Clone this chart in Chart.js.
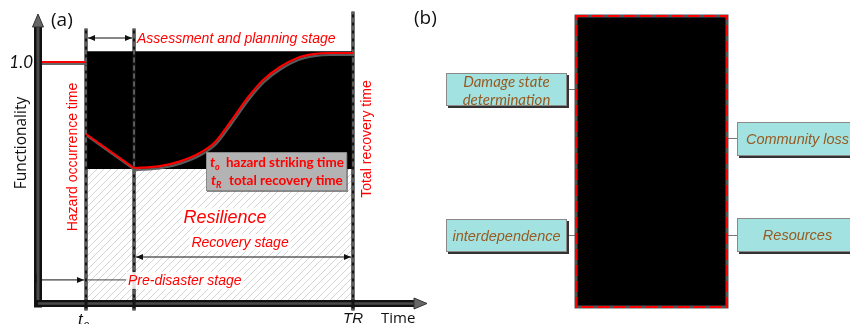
<!DOCTYPE html>
<html><head><meta charset="utf-8">
<script src="https://cdn.jsdelivr.net/npm/chart.js@4.4.1/dist/chart.umd.min.js"></script>
<style>
html,body{margin:0;padding:0;background:#fff;overflow:hidden}
#wrap{position:relative;width:850px;height:324px;overflow:hidden;background:#fff}
#c,#svgb{position:absolute;left:0;top:0}
.lbl{position:absolute;font-family:"Open Sans",sans-serif;font-size:19px;color:#111;line-height:1}
.box{position:absolute;box-sizing:border-box;width:121px;background:#a2e3e1;border:1px solid #8a8a8a;box-shadow:2px 2px 0 #333;color:#965a22;font-style:italic;display:flex;align-items:center;justify-content:center;text-align:center;white-space:nowrap}
.cal{font-family:Lato,"Open Sans",sans-serif;font-size:15px;line-height:18px}
.ari{font-family:"Liberation Sans",Arial,sans-serif;font-size:14.5px}
</style></head>
<body>
<div id="wrap">
<canvas id="c" width="850" height="324"></canvas>
<svg id="svgb" width="850" height="324">
  <line x1="567" y1="89.5" x2="576" y2="89.5" stroke="#777" stroke-width="1"/>
  <line x1="567" y1="235.5" x2="576" y2="235.5" stroke="#777" stroke-width="1"/>
  <line x1="727" y1="138.5" x2="737" y2="138.5" stroke="#777" stroke-width="1"/>
  <line x1="727" y1="235.5" x2="737" y2="235.5" stroke="#777" stroke-width="1"/>
  <rect x="576" y="16" width="151" height="291" fill="#000" stroke="#555" stroke-width="3"/>
  <rect x="576" y="16" width="151" height="291" fill="none" stroke="#f00" stroke-width="2" stroke-dasharray="11 5"/>
</svg>
<div class="lbl" style="left:414px;top:8px">(b)</div>
<div class="box cal" style="left:446px;top:73px;height:33px">Damage state<br>determination</div>
<div class="box ari" style="left:446px;top:219px;height:33px">interdependence</div>
<div class="box ari" style="left:737px;top:122px;height:34px">Community loss</div>
<div class="box ari" style="left:737px;top:218px;height:34px">Resources</div>
</div>
<script>
// ---- data (panel a) ----
const stageTimes = [1, 2, 6.56];            // t0 (hazard), end of assessment, TR
const markerTop = [1.14, 1.14, 1.21];
const preTimes = [0, 1];
const preValues = [1.0, 1.0];
const impactTimes = [1, 2];
const impactValues = [0.70, 0.558];
const recoveryTimes = [2.0, 2.54, 2.96, 3.38, 3.69, 4.0, 4.38, 4.69, 5.04, 5.40, 5.73, 6.08, 6.56];
const recoveryValues = [0.558, 0.566, 0.586, 0.622, 0.667, 0.748, 0.854, 0.925, 0.979, 1.017, 1.033, 1.0375, 1.0375];
const lossTop = [1.045, 1.045];
const lossBottom = [0.554, 0.554];
const yTickLabels = ['1.0'];
const yTickValues = [1.0];
const xMax = 8.06, yMax = 1.2;

const RED = '#f00';
const pts = (xs, ys) => xs.map((x, i) => ({x, y: ys[i]}));

function makeHatch(ctx){
  const s = 7, c = document.createElement('canvas');
  c.width = s; c.height = s;
  const g = c.getContext('2d');
  g.fillStyle = '#fff'; g.fillRect(0,0,s,s);
  g.strokeStyle = '#c9c9c9'; g.lineWidth = 0.8;
  g.beginPath();
  g.moveTo(0, s); g.lineTo(s, 0);
  g.moveTo(-1, 1); g.lineTo(1, -1);
  g.moveTo(s-1, s+1); g.lineTo(s+1, s-1);
  g.stroke();
  return ctx.createPattern(c, 'repeat');
}

const canvas = document.getElementById('c');
const hatch = makeHatch(canvas.getContext('2d'));

const datasets = [
  {label:'pre', data: pts(preTimes, preValues), borderColor: RED, borderWidth: 2, order: 0, shadow: true},
  {label:'impact', data: pts(impactTimes, impactValues), borderColor: RED, borderWidth: 2, order: 0, shadow: true},
  {label:'recovery', data: pts(recoveryTimes, recoveryValues), borderColor: RED, borderWidth: 2.2,
   cubicInterpolationMode: 'monotone', order: 0, shadow: true},
];
stageTimes.forEach((t, i) => {
  datasets.push({label:'mkDash'+i, data: pts([t, t], [-0.035, markerTop[i]]), borderColor:'#8c8c8c',
    borderWidth: 1.2, borderDash:[5,3], order: 1, clip: false});
  datasets.push({label:'mk'+i, data: pts([t, t], [-0.035, markerTop[i]]), borderColor:'#151515',
    borderWidth: 3.2, order: 2, clip: false});
});
datasets.push({label:'loss', data: pts([stageTimes[0], stageTimes[2]], lossTop), borderWidth: 0,
  backgroundColor:'#000', fill:{value: lossBottom[0]}, order: 3});
datasets.push({label:'resilience', data: pts([stageTimes[0], stageTimes[2]], lossBottom), borderWidth: 0,
  backgroundColor: hatch, fill:'origin', order: 4});

const shadowPlugin = {
  id:'shadow',
  beforeDatasetDraw(chart, args){
    const ds = chart.data.datasets[args.index];
    if (ds.shadow){ const c = chart.ctx; c.save(); c.shadowColor='rgba(95,95,95,0.95)'; c.shadowOffsetX=1; c.shadowOffsetY=2; c.shadowBlur=0; }
  },
  afterDatasetDraw(chart, args){
    if (chart.data.datasets[args.index].shadow) chart.ctx.restore();
  }
};

function fitSize(ctx, text, style, family, target){
  ctx.font = style + ' 20px ' + family;
  return 20 * target / ctx.measureText(text).width;
}

const annot = {
  id:'annot',
  afterDatasetsDraw(chart){
    const ctx = chart.ctx, sx = chart.scales.x, sy = chart.scales.y;
    const X = v => sx.getPixelForValue(v), Y = v => sy.getPixelForValue(v);
    const [t0, tA, tR] = stageTimes;
    const ARIAL = '"Liberation Sans", Arial, sans-serif';
    const LATO = 'Lato, "Open Sans", sans-serif';
    const OPEN = '"Open Sans", sans-serif';
    ctx.save();
    const line = (x1,y1,x2,y2) => { ctx.beginPath(); ctx.moveTo(x1,y1); ctx.lineTo(x2,y2); ctx.stroke(); };
    const head = (x, y, dir) => { ctx.beginPath(); ctx.moveTo(x, y); ctx.lineTo(x - dir*7, y - 3); ctx.lineTo(x - dir*7, y + 3); ctx.closePath(); ctx.fill(); };

    // axes
    const ax = X(0), by = Y(0) + 1.5;
    ctx.lineCap = 'butt';
    ctx.strokeStyle = '#111'; ctx.lineWidth = 8; line(ax, by + 4, ax, Y(yMax) + 12);
    ctx.strokeStyle = '#4a4a4a'; ctx.lineWidth = 3; line(ax, by, ax, Y(yMax) + 12);
    ctx.strokeStyle = '#111'; ctx.lineWidth = 7; line(ax - 4, by, X(xMax) - 9, by);
    ctx.strokeStyle = '#4a4a4a'; ctx.lineWidth = 2.5; line(ax, by, X(xMax) - 9, by);
    stageTimes.forEach(t => { ctx.strokeStyle = '#151515'; ctx.lineWidth = 3; line(X(t), by - 4, X(t), by + 5); });
    ctx.fillStyle = '#666'; ctx.strokeStyle = '#333'; ctx.lineWidth = 1;
    ctx.beginPath(); ctx.moveTo(ax - 5.5, Y(yMax) + 13); ctx.lineTo(ax + 5.5, Y(yMax) + 13); ctx.lineTo(ax, Y(yMax)); ctx.closePath(); ctx.fill(); ctx.stroke();
    ctx.beginPath(); ctx.moveTo(X(xMax) - 11, by - 5.5); ctx.lineTo(X(xMax) - 11, by + 5.5); ctx.lineTo(X(xMax) + 2, by); ctx.closePath(); ctx.fill(); ctx.stroke();

    // stage arrows
    ctx.strokeStyle = '#111'; ctx.fillStyle = '#111'; ctx.lineWidth = 1;
    const ya = Y(1.1);
    line(X(t0) + 2, ya, X(tA) - 2, ya); head(X(t0) + 2, ya, -1); head(X(tA) - 2, ya, 1);
    const yr = Y(0.1875);
    line(X(tA) + 2, yr, X(tR) - 2, yr); head(X(tA) + 2, yr, -1); head(X(tR) - 2, yr, 1);
    const yp = Y(0.092);
    line(ax + 3, yp, X(t0) - 2, yp); head(X(t0) - 2, yp, 1);
    line(ax - 2, yp - 6, ax - 2, yp + 3);
    ctx.strokeStyle = '#444'; line(X(t0) + 2, yp, X(t0) + 42, yp);

    const backed = (s, x, y, font, align) => {
      ctx.font = font; ctx.textAlign = align; ctx.textBaseline = 'alphabetic';
      const w = ctx.measureText(s).width;
      const lx = align === 'center' ? x - w/2 : x;
      ctx.fillStyle = 'rgba(255,255,255,0.85)';
      ctx.fillRect(lx - 2, y - 13, w + 4, 17);
      ctx.fillStyle = RED; ctx.fillText(s, x, y);
    };
    ctx.fillStyle = RED; ctx.textAlign = 'left'; ctx.textBaseline = 'alphabetic';
    ctx.font = 'italic 14px ' + ARIAL;
    ctx.fillText('Assessment and planning stage', X(tA) + 3, ya + 5);
    backed('Pre-disaster stage', X(t0) + 42, yp + 5, 'italic 14px ' + ARIAL, 'left');
    backed('Recovery stage', X(tA) + 106, yr - 10, 'italic 14px ' + ARIAL, 'center');
    ctx.font = 'italic 18px ' + ARIAL;
    { const w = ctx.measureText('Resilience').width; ctx.fillStyle='rgba(255,255,255,0.85)'; ctx.fillRect(X(tA)+91-w/2-2, Y(0.33)-15, w+4, 19); }
    ctx.fillStyle = RED; ctx.textAlign = 'center'; ctx.fillText('Resilience', X(tA) + 91, Y(0.33));

    // legend box
    const bx = 206, byy = 152;
    ctx.save(); ctx.shadowColor = 'rgba(60,60,60,0.6)'; ctx.shadowOffsetX = 1; ctx.shadowOffsetY = 1;
    ctx.fillStyle = '#b3b3b3'; ctx.fillRect(bx, byy, 141, 39); ctx.restore();
    ctx.strokeStyle = '#8a8a8a'; ctx.lineWidth = 1; ctx.strokeRect(bx + 0.5, byy + 0.5, 140, 38);
    ctx.fillStyle = RED; ctx.textAlign = 'left';
    ctx.font = 'bold italic 14px ' + LATO; ctx.fillText('t', bx + 4, byy + 15); ctx.fillText('t', bx + 5, byy + 33);
    ctx.font = 'bold italic 9px ' + LATO; ctx.fillText('o', bx + 9, byy + 18); ctx.fillText('R', bx + 10, byy + 36);
    let fs = fitSize(ctx, 'hazard striking time', 'bold', LATO, 118);
    ctx.font = 'bold ' + fs + 'px ' + LATO; ctx.fillText('hazard striking time', bx + 20, byy + 15);
    fs = fitSize(ctx, 'total recovery time', 'bold', LATO, 114);
    ctx.font = 'bold ' + fs + 'px ' + LATO; ctx.fillText('total recovery time', bx + 23, byy + 33);

    // rotated labels
    const rot = (s, x, y, font, color) => {
      ctx.save(); ctx.translate(x, y); ctx.rotate(-Math.PI/2);
      ctx.font = font; ctx.fillStyle = color; ctx.textAlign = 'center'; ctx.textBaseline = 'middle';
      ctx.fillText(s, 0, 0); ctx.restore();
    };
    rot('Hazard occurrence time', (ax + X(t0)) / 2 + 11, 157, '14px ' + ARIAL, RED);
    rot('Total recovery time', X(tR) + 14, 139, '14px ' + ARIAL, RED);
    rot('Functionality', 22, 143, '15.5px ' + OPEN, '#111');

    // tick / axis texts
    ctx.fillStyle = '#111'; ctx.textBaseline = 'alphabetic';
    ctx.font = 'italic 17px ' + LATO; ctx.textAlign = 'right';
    yTickLabels.forEach((l, i) => ctx.fillText(l, ax - 5, Y(yTickValues[i]) + 6));
    ctx.textAlign = 'left';
    ctx.font = 'italic 17px ' + ARIAL; ctx.fillText('t', X(t0) - 8, 325);
    ctx.font = 'italic 11px ' + ARIAL; ctx.fillText('0', X(t0) - 3, 330);
    ctx.font = 'italic 15px ' + ARIAL; ctx.textAlign = 'center'; ctx.fillText('TR', X(tR), 323);
    ctx.font = '15px ' + OPEN; ctx.textAlign = 'left'; ctx.fillText('Time', 381, 323);
    ctx.font = '19px ' + OPEN; ctx.fillText('(a)', 51, 26);
    ctx.restore();
  }
};

new Chart(canvas, {
  type: 'line',
  data: { datasets },
  options: {
    responsive: false, animation: false, devicePixelRatio: 1,
    layout: { padding: { left: 38, right: 425, top: 14, bottom: 22 } },
    scales: {
      x: { type: 'linear', min: 0, max: xMax, display: false },
      y: { type: 'linear', min: 0, max: yMax, display: false }
    },
    elements: { point: { radius: 0 }, line: { tension: 0 } },
    plugins: { legend: { display: false }, tooltip: { enabled: false } }
  },
  plugins: [shadowPlugin, annot]
});
</script>
</body></html>
